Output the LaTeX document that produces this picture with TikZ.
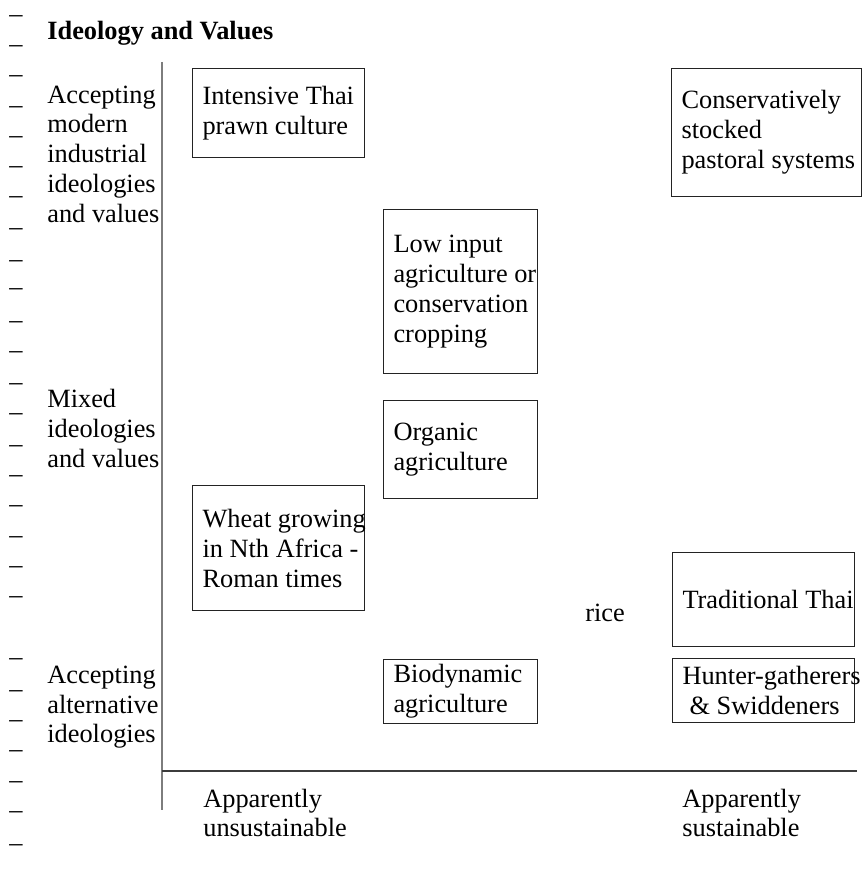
\documentclass[tikz,border=0pt]{standalone}
\usepackage{fontspec}
\setmainfont{Liberation Serif}
\usepackage{tikz}
\usetikzlibrary{positioning}
\definecolor{axisgray}{RGB}{125,125,125}
\definecolor{axisdark}{RGB}{60,60,60}
\definecolor{boxline}{RGB}{35,35,35}
\newcommand{\diagfont}{\fontsize{15}{17.07}\selectfont}
\hyphenpenalty=10000
\exhyphenpenalty=10000
\tikzset{
  farmbox/.style={rectangle, draw=boxline, line width=0.6pt, anchor=north west,
    align=flush left, inner xsep=0.2cm, inner ysep=0pt, font=\diagfont},
  sidelabel/.style={anchor=base west, align=flush left, inner sep=0pt, font=\diagfont},
  parmark/.style={anchor=base west, inner sep=0pt, font=\diagfont},
  vaxis/.style={line width=0.7pt, color=axisgray},
  haxis/.style={line width=0.7pt, color=axisdark}
}

\begin{document}
\begin{tikzpicture}[scale=1.0]
  \useasboundingbox (0,0) rectangle (17.26,17.38);
  % Paragraph marks down the left margin
  \foreach \y [count=\i] in {17.10,16.50,15.90,15.28,14.68,14.08,13.48,12.84,12.20,11.64,
      10.98,10.38,9.74,9.14,8.50,7.90,7.30,6.68,6.08,5.48,4.24,3.60,3.00,2.40,1.78,1.18,0.54}
    \node[parmark] (mark\i) at (0.18,\y) {\_};
  % Title
  \node[sidelabel, font=\diagfont\bfseries] (title) at (0.94,16.58) {Ideology and Values};
  % Axes
  \coordinate (ytop) at (3.24,16.14);
  \coordinate (ybot) at (3.24,1.18);
  \coordinate (origin) at (3.24,1.96);
  \coordinate (xend) at (17.14,1.96);
  \draw[vaxis] (ytop) -- (ybot);
  \draw[haxis] (origin) -- (xend);
  % Vertical axis labels (placed by their last line)
  \node[sidelabel] (modern) at (0.94,12.92) {Accepting\\modern\\industrial\\ideologies\\and values};
  \node[sidelabel] (mixed) at (0.94,8.02) {Mixed\\ideologies\\and values};
  \node[sidelabel] (altern) at (0.94,2.52) {Accepting\\alternative\\ideologies};
  % Horizontal axis labels
  \node[sidelabel] (unsust) at (4.06,0.64) {Apparently\\unsustainable};
  \node[sidelabel] (sust) at (13.64,0.64) {Apparently\\sustainable};
  % Farming systems
  \node[farmbox, text width=3.04cm, minimum height=1.78cm] (prawn) at (3.84,16.02)
    {\mbox{Intensive Thai}\\\mbox{prawn culture}};
  \node[farmbox, text width=3.40cm, minimum height=2.56cm] (pastoral) at (13.42,16.02)
    {Conservatively\\stocked\\\mbox{pastoral systems}};
  \node[farmbox, text width=2.68cm, minimum height=3.28cm] (lowinput) at (7.66,13.20)
    {\mbox{Low input}\\\mbox{agriculture or}\\conservation\\cropping};
  \node[farmbox, text width=2.68cm, minimum height=1.96cm] (organic) at (7.66,9.38)
    {Organic\\agriculture};
  \node[farmbox, text width=3.04cm, minimum height=2.50cm] (wheat) at (3.84,7.68)
    {\mbox{Wheat growing}\\\mbox{in Nth Africa -}\\\mbox{Roman times}};
  \node[farmbox, text width=2.68cm, minimum height=1.28cm] (biodyn) at (7.66,4.20)
    {Biodynamic\\agriculture};
  \node[farmbox, text width=3.24cm, minimum height=1.88cm] (thairice) at (13.44,6.34)
    {\mbox{Traditional Thai}};
  \node[farmbox, text width=3.24cm, minimum height=1.28cm] (hunter) at (13.44,4.22)
    {\mbox{Hunter-gatherers}\\\mbox{\hspace*{0.14cm}\& Swiddeners}};
  \node[sidelabel] (rice) at (11.70,4.94) {rice};
\end{tikzpicture}
\end{document}
